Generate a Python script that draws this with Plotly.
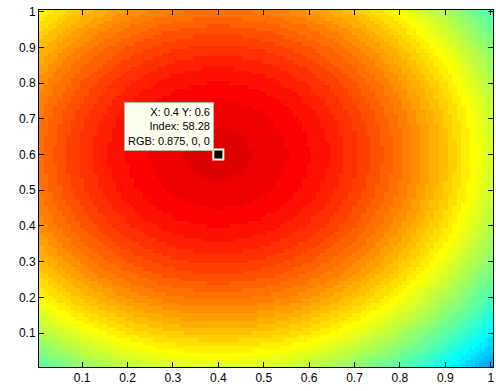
import math
import numpy as np
import plotly.graph_objects as go

# ---- data ----
# grid of cell centres (100 x 100 cells, 0.01 spacing)
x_vals = [round(0.01 * i, 2) for i in range(1, 101)]
y_vals = [round(0.01 * i, 2) for i in range(1, 101)]
peak_x = 0.40          # centre of darkest red spot
peak_y = 0.60
peak_index = 58.28     # value shown in the data tip at the centre
fall_per_r2 = 56.0     # index drop per unit squared distance (edges: ~49 left, ~38 right/bottom, ~16 bottom-right corner)

x_ticks = [0.1, 0.2, 0.3, 0.4, 0.5, 0.6, 0.7, 0.8, 0.9, 1]
y_ticks = [0.1, 0.2, 0.3, 0.4, 0.5, 0.6, 0.7, 0.8, 0.9, 1]
tick_text = ["0.1", "0.2", "0.3", "0.4", "0.5", "0.6", "0.7", "0.8", "0.9", "1"]

tip_x, tip_y = 0.4, 0.6
tip_lines = ["X: 0.4 Y: 0.6", "Index: 58.28", "RGB: 0.875, 0, 0"]


def jet(m=64):
    n = math.ceil(m / 4)
    u = [i / n for i in range(1, n + 1)] + [1.0] * (n - 1) + [i / n for i in range(n, 0, -1)]
    g = [math.ceil(n / 2) - (1 if m % 4 == 1 else 0) + i for i in range(1, len(u) + 1)]
    r = [gi + n for gi in g]
    b = [gi - n for gi in g]
    J = [[0.0, 0.0, 0.0] for _ in range(m)]
    for k in range(len(u)):
        if 1 <= r[k] <= m:
            J[r[k] - 1][0] = u[k]
        if 1 <= g[k] <= m:
            J[g[k] - 1][1] = u[k]
        if 1 <= b[k] <= m:
            J[b[k] - 1][2] = u[k]
    return J


cmap = jet(64)
colorscale = []
for i, c in enumerate(cmap):
    col = "rgb(%d,%d,%d)" % tuple(round(255 * v) for v in c)
    colorscale.append([i / 64, col])
    colorscale.append([(i + 1) / 64, col])

X, Y = np.meshgrid(np.array(x_vals), np.array(y_vals))
field = peak_index - fall_per_r2 * ((X - peak_x) ** 2 + (Y - peak_y) ** 2)
idx = np.clip(np.floor(field), 1, 64)

fig = go.Figure()
fig.add_trace(go.Heatmap(
    x=x_vals, y=y_vals, z=idx,
    colorscale=colorscale, zmin=0.5, zmax=64.5,
    showscale=False, hoverinfo="skip",
))
fig.add_trace(go.Scatter(
    x=[tip_x], y=[tip_y], mode="markers",
    marker=dict(symbol="square", size=10, color="black",
                line=dict(color="#fffff0", width=2)),
    hoverinfo="skip", showlegend=False,
))

fig.add_annotation(
    x=0.39, y=0.609, xref="x", yref="y",
    xanchor="right", yanchor="bottom",
    text="<br>".join(tip_lines), showarrow=False, align="right",
    font=dict(family="Liberation Sans, Arial, sans-serif", size=11, color="black"),
    bgcolor="#fffff0", bordercolor="#b4b4b4", borderwidth=1, borderpad=3,
)

axis_common = dict(
    showline=True, linecolor="black", linewidth=1, mirror="ticks",
    ticks="inside", ticklen=5, tickcolor="black", tickwidth=1,
    showgrid=False, zeroline=False,
    tickfont=dict(family="Liberation Sans, Arial, sans-serif", size=12, color="black"),
)
fig.update_xaxes(range=[0.005, 1.005], tickvals=x_ticks, ticktext=tick_text, **axis_common)
fig.update_yaxes(range=[0.005, 1.005], tickvals=y_ticks, ticktext=tick_text, **axis_common)

fig.update_layout(
    width=496, height=391,
    margin=dict(l=39, r=3, t=10, b=24),
    paper_bgcolor="white", plot_bgcolor="white",
    showlegend=False,
)

fig.write_html(
    "out.html",
    config={"displayModeBar": False},
    post_script="document.body.style.margin='0';document.body.style.overflow='hidden';",
)
